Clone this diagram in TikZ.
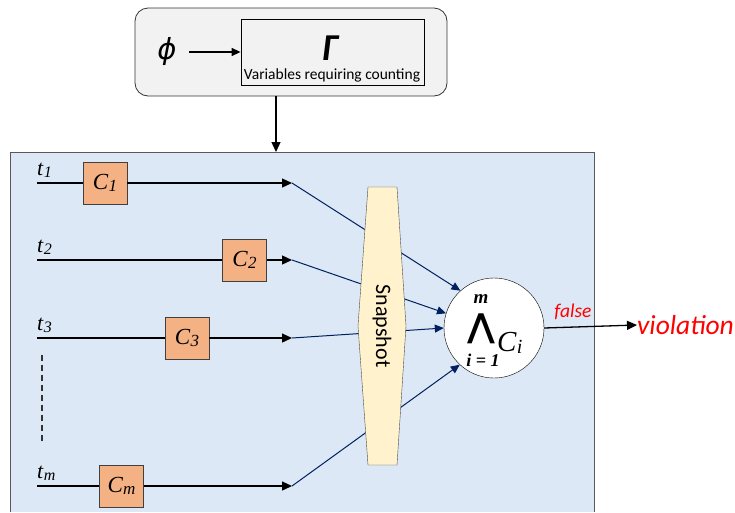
\documentclass[tikz,border=0pt]{standalone}
\usepackage{fontspec}
\setmainfont{Liberation Serif}
\setsansfont{Carlito}
\newfontfamily\symfont{DejaVu Sans}
\usetikzlibrary{arrows.meta}

\definecolor{panelblue}{RGB}{220,232,245}
\definecolor{boxorange}{RGB}{244,177,131}
\definecolor{snapyellow}{RGB}{255,242,204}
\definecolor{navy}{RGB}{0,32,96}
\definecolor{topgray}{RGB}{242,242,242}

\newcommand{\lbl}[3]{\textit{#1}{\fontsize{#3}{#3}\selectfont\raisebox{-0.3ex}{\textit{#2}}}}

\tikzset{
  cbox/.style={draw=black!75, fill=boxorange, minimum width=44pt, minimum height=42pt,
    inner sep=0pt, font=\fontsize{23}{23}\selectfont},
  tlabel/.style={font=\fontsize{22}{22}\selectfont, inner sep=0pt},
  wire/.style={line width=1.3pt, -{Triangle[length=10pt,width=9pt]}},
  feed/.style={navy, line width=1pt, -{Triangle[length=9pt,width=8pt]}}
}

\begin{document}
\begin{tikzpicture}[x=1pt,y=-1pt]

  \useasboundingbox (0,0) rectangle (735,512);

  % input part
  \node [draw=black!80, fill=topgray, rounded corners=13pt, minimum width=312pt,
         minimum height=88pt, line width=0.8pt] (top) at (291,52) {};
  \node [draw, line width=0.8pt, minimum width=183pt, minimum height=66pt] (gamma) at (332.5,52) {};
  \node [font={\sffamily\bfseries\itshape\fontsize{38}{38}\selectfont}, inner sep=0pt, anchor=base] (G) at (330,60) {Γ};
  \node [font={\sffamily\fontsize{15.5}{15.5}\selectfont}, inner sep=0pt, anchor=base] (vars) at (332,79) {Variables requiring counting};
  \node [font={\symfont\itshape\fontsize{29}{29}\selectfont}, inner sep=0pt] (phi) at (167,51) {ϕ};
  \draw[line width=1.3pt, -{Triangle[length=9pt,width=8pt]}] (189,52) -- (gamma.west);

  % panel
  \fill [panelblue] (10,152) rectangle (594,512);
  \draw [black!65, line width=0.9pt] (10,512) -- (10,152) -- (594,152) -- (594,512);
  \coordinate (pin) at (276,152);
  \draw[wire] (top.south -| pin) -- (pin);

  % the conjunction
  \node [draw, circle, fill=white, minimum size=100pt, inner sep=0pt] (and) at (494,328) {};
  \node [font={\bfseries\itshape\fontsize{19}{19}\selectfont}, inner sep=0pt] (top m) at (481,299) {m};
  \node [font={\symfont\bfseries\fontsize{33}{33}\selectfont}, inner sep=0pt] (wedge) at (481,329) {⋀};
  \node [font={\fontsize{29}{29}\selectfont}, inner sep=0pt, anchor=base west] (ci) at (497,351) {\lbl{C}{i}{20}};
  \node [font={\bfseries\itshape\fontsize{18}{18}\selectfont}, inner sep=0pt] (bot i) at (483,360) {i = 1};

  % threads
  \foreach \n/\y/\cx/\sub in {1/183/105/1, 2/260/244.5/2, 3/338/187/3, m/486/121.5/m} {
    \coordinate (s\n) at (37,\y);
    \coordinate (e\n) at (292,\y);
    \node [cbox] (c\n) at (\cx,\y) {\lbl{C}{\sub}{17}};
    \node [tlabel, anchor=south west] (t\n) at (37,\y-5) {\lbl{t}{\sub}{16}};
    \draw [line width=1.3pt] (s\n) -- (c\n);
    \draw [wire] (c\n) -- (e\n);
  }
  \draw [feed] (e1) -- (and.132);
  \draw [feed] (e2) -- (and.163);
  \draw [feed] (e3) -- (and.west);
  \draw [feed] (em) -- (and.227);
  \draw [dash pattern=on 6pt off 4pt, line width=1.3pt, black!80] (42,355) -- (42,441);

  % snapshot
  \draw [fill=snapyellow, draw=black!70] (368,187) -- (397,187) -- (406,326) -- (397,465)
    -- (368,465) -- (358,326) -- cycle;
  \node [rotate=-90, font={\sffamily\fontsize{22}{22}\selectfont}] (snap) at (382,326) {Snapshot};

  % output
  \node [font={\sffamily\itshape\fontsize{27.5}{27.5}\selectfont}, text=red, anchor=west, inner sep=0pt] (viol) at (637,325) {violation};
  \draw [wire] (and.east) -- (viol.west);
  \node [font={\sffamily\itshape\fontsize{19.5}{19.5}\selectfont}, text=red, inner sep=0pt] (false) at (573,312) {false};

\end{tikzpicture}
\end{document}
